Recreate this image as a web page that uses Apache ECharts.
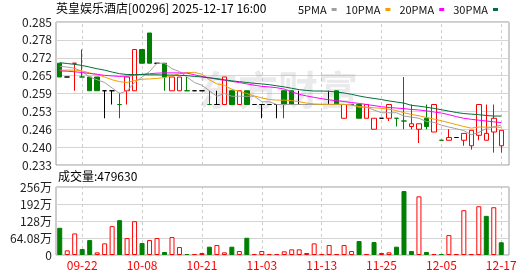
<!DOCTYPE html>
<html><head><meta charset="utf-8">
<script src="https://cdn.jsdelivr.net/npm/echarts@6/dist/echarts.min.js"></script>
<style>html,body{margin:0;padding:0;background:#fff}#c{width:530px;height:276px}</style>
</head><body><div id="c"></div>
<script>
const dates = ['09-17','09-18','09-19','09-22','09-23','09-25','09-26','09-29','09-30','10-02','10-03','10-08','10-09','10-10','10-14','10-15','10-16','10-17','10-20','10-21','10-22','10-23','10-24','10-27','10-28','10-30','10-31','11-03','11-04','11-05','11-06','11-07','11-10','11-11','11-12','11-13','11-14','11-17','11-18','11-19','11-20','11-21','11-24','11-25','11-26','11-27','11-28','12-01','12-02','12-03','12-04','12-05','12-08','12-09','12-10','12-11','12-12','12-15','12-16','12-17'];
const opens  = [0.270,0.265,0.270,0.265,0.265,0.265,0.260,0.260,0.255,0.260,0.260,0.275,0.281,0.270,0.270,0.260,0.260,0.260,0.260,0.260,0.255,0.255,0.255,0.260,0.255,0.260,0.255,0.255,0.255,0.255,0.260,0.260,0.255,0.255,0.255,0.255,0.255,0.260,0.250,0.255,0.255,0.250,0.246,0.250,0.250,0.250,0.249,0.247,0.246,0.250,0.245,0.242,0.242,0.243,0.242,0.240,0.2438,0.242,0.245,0.240];
const closes = [0.265,0.265,0.270,0.265,0.260,0.260,0.260,0.260,0.255,0.265,0.275,0.270,0.270,0.270,0.265,0.265,0.265,0.260,0.260,0.260,0.255,0.255,0.265,0.255,0.260,0.255,0.255,0.255,0.255,0.255,0.255,0.255,0.255,0.255,0.255,0.255,0.255,0.255,0.255,0.255,0.250,0.255,0.250,0.250,0.255,0.250,0.249,0.248,0.248,0.247,0.255,0.242,0.243,0.243,0.2445,0.2456,0.255,0.2445,0.250,0.2456];
const lows   = [0.265,0.265,0.260,0.265,0.260,0.260,0.250,0.255,0.250,0.255,0.260,0.270,0.270,0.270,0.260,0.260,0.260,0.260,0.260,0.260,0.255,0.255,0.255,0.255,0.255,0.255,0.255,0.250,0.255,0.250,0.250,0.255,0.255,0.255,0.255,0.255,0.255,0.255,0.250,0.255,0.250,0.250,0.246,0.250,0.249,0.247,0.246,0.246,0.241,0.246,0.245,0.242,0.242,0.243,0.240,0.2386,0.242,0.242,0.2375,0.2375];
const highs  = [0.270,0.265,0.270,0.275,0.265,0.265,0.260,0.260,0.2593,0.265,0.275,0.275,0.281,0.270,0.270,0.265,0.265,0.265,0.260,0.260,0.260,0.260,0.265,0.260,0.260,0.260,0.255,0.255,0.255,0.255,0.260,0.260,0.260,0.255,0.255,0.255,0.260,0.260,0.255,0.255,0.255,0.255,0.250,0.250,0.255,0.250,0.265,0.255,0.248,0.255,0.255,0.242,0.246,0.243,0.2445,0.2456,0.255,0.255,0.255,0.2456];
const volumes = [1026000,175000,813000,225000,563000,100000,438000,1088000,1313000,638000,1275000,450000,563000,638000,113000,675000,300000,38000,38000,75000,313000,375000,100000,313000,150000,650000,38000,150000,38000,38000,138000,213000,213000,75000,438000,38000,375000,38000,375000,150000,525000,38000,488000,75000,100000,313000,2410000,150000,2210000,113000,38000,38000,750000,38000,1688000,38000,1838000,1475000,1800000,479630];
const ma5  = [0.2689,0.2686,0.2682,0.2670,0.2650,0.2640,0.2630,0.2610,0.2590,0.2600,0.2630,0.2650,0.2670,0.2700,0.2700,0.2680,0.2670,0.2650,0.2630,0.2620,0.2600,0.2580,0.2590,0.2580,0.2580,0.2580,0.2580,0.2560,0.2560,0.2550,0.2550,0.2550,0.2550,0.2550,0.2550,0.2550,0.2550,0.2550,0.2550,0.2550,0.2540,0.2540,0.2530,0.2520,0.2520,0.2520,0.2508,0.2504,0.2500,0.2488,0.2485,0.2475,0.2468,0.2462,0.2455,0.2440,0.2448,0.2463,0.2469,0.2475];
const ma10 = [0.2675,0.2675,0.2675,0.2672,0.2665,0.2658,0.2650,0.2640,0.2633,0.2630,0.2637,0.2642,0.2643,0.2645,0.2648,0.2654,0.2662,0.2666,0.2667,0.2660,0.2640,0.2625,0.2620,0.2605,0.2598,0.2590,0.2581,0.2574,0.2568,0.2566,0.2566,0.2564,0.2560,0.2555,0.2552,0.2551,0.2551,0.2551,0.2551,0.2547,0.2543,0.2540,0.2538,0.2536,0.2533,0.2528,0.2520,0.2514,0.2509,0.2503,0.2497,0.2491,0.2484,0.2477,0.2470,0.2464,0.2468,0.2468,0.2467,0.2467];
const ma20 = [0.2672,0.2671,0.2669,0.2666,0.2663,0.2660,0.2656,0.2654,0.2652,0.2653,0.2656,0.2660,0.2662,0.2664,0.2665,0.2665,0.2665,0.2664,0.2658,0.2652,0.2647,0.2642,0.2638,0.2634,0.2630,0.2625,0.2620,0.2616,0.2614,0.2611,0.2606,0.2596,0.2587,0.2581,0.2576,0.2571,0.2567,0.2564,0.2561,0.2557,0.2554,0.2550,0.2546,0.2542,0.2539,0.2537,0.2535,0.2532,0.2530,0.2527,0.2523,0.2519,0.2513,0.2506,0.2500,0.2496,0.2493,0.2490,0.2487,0.2484];
const ma30 = [0.2702,0.2699,0.2696,0.2692,0.2686,0.2680,0.2675,0.2668,0.2662,0.2659,0.2659,0.2659,0.2658,0.2658,0.2657,0.2657,0.2656,0.2655,0.2652,0.2650,0.2647,0.2644,0.2640,0.2636,0.2633,0.2630,0.2627,0.2625,0.2622,0.2618,0.2614,0.2609,0.2604,0.2601,0.2599,0.2599,0.2598,0.2595,0.2592,0.2587,0.2581,0.2576,0.2572,0.2568,0.2563,0.2559,0.2555,0.2547,0.2544,0.2540,0.2536,0.2531,0.2526,0.2521,0.2517,0.2515,0.2513,0.2510,0.2508,0.2508];
const priceTicks = ['0.233','0.240','0.246','0.253','0.259','0.265','0.272','0.278','0.285'];
const volTicks = ['0','64.08万','128万','192万','256万'];
const labelIdx = [3,11,19,27,35,43,51,59];
const PRICE_MIN = 0.233, PRICE_MAX = 0.285, VOL_MAX = 2563200;
const title = '英皇娱乐酒店[00296] 2025-12-17 16:00';
const volTitle = '成交量:479630';
const maNames = ['5PMA','10PMA','20PMA','30PMA'];

const RED = '#ff0000', GREEN = '#008000', BLACK = '#000000';
const MA_COLORS = ['#a0a0a0','#f0a000','#ff00ff','#00703a'];
const FONT = "'Noto Sans CJK SC', sans-serif";

const candleData = dates.map((d, i) => {
  const o = opens[i], c = closes[i];
  const prev = i > 0 ? closes[i - 1] : o;
  let col;
  if (c > o) col = RED; else if (c < o) col = GREEN;
  else col = c > prev ? RED : (c < prev ? GREEN : BLACK);
  const fill = c > o ? '#ffffff' : col;
  return { value: [o, c, lows[i], highs[i]],
    itemStyle: { color: fill, color0: fill, borderColor: col, borderColor0: col, borderColorDoji: col } };
});
const volData = volumes.map((v, i) => {
  const up = i > 0 ? closes[i] >= closes[i - 1] : closes[i] >= opens[i];
  return { value: v, itemStyle: up ? { color: '#ffffff', borderColor: RED, borderWidth: 1 } : { color: GREEN, borderColor: GREEN, borderWidth: 1 } };
});

const isLabel = (idx) => labelIdx.indexOf(idx) >= 0;
const L = 56, BGW = 453, DW = 449;
const PT = 22, PH = 143, VT = 187, VH = 68;

const chart = echarts.init(document.getElementById('c'), null, { renderer: 'canvas' });
const hiddenAxis = { show: false };
const bgY = (ticks, max) => ({
  type: 'value', min: 0, max: max, interval: 1,
  axisLine: { show: false }, axisTick: { show: false },
  axisLabel: { margin: 4, fontSize: 12, color: '#222', fontFamily: FONT, formatter: (v) => ticks[v] },
  splitLine: { show: true, lineStyle: { color: '#d4d4d4', width: 1 } }
});
const catX = (grid, h, showLabel) => ({
  type: 'category', gridIndex: grid, data: dates, boundaryGap: true,
  axisLine: { show: false },
  axisTick: { show: true, inside: true, length: h, alignWithLabel: true, interval: (i) => isLabel(i),
    lineStyle: { type: [3, 3], color: '#cccccc', width: 1 } },
  axisLabel: { show: showLabel, interval: (i) => isLabel(i), color: RED, fontSize: 12, fontFamily: FONT, margin: 4 },
  splitLine: { show: false }
});

chart.setOption({
  animation: false,
  textStyle: { fontFamily: FONT },
  legend: {
    data: maNames, right: 32, top: 4, padding: 0, itemGap: 9, itemWidth: 5, itemHeight: 3,
    align: 'right', icon: 'rect', selectedMode: false,
    textStyle: { fontSize: 11, color: '#111', fontFamily: FONT }
  },
  grid: [
    { left: L, top: PT, width: BGW, height: PH, show: true, borderColor: '#9a9a9a', borderWidth: 1, backgroundColor: 'transparent' },
    { left: L, top: PT, width: DW, height: PH },
    { left: L, top: VT, width: BGW, height: VH, show: true, borderColor: '#9a9a9a', borderWidth: 1, backgroundColor: 'transparent' },
    { left: L, top: VT, width: DW, height: VH }
  ],
  xAxis: [
    Object.assign({ type: 'value', gridIndex: 0, min: 0, max: 1 }, hiddenAxis),
    catX(1, PH, false),
    Object.assign({ type: 'value', gridIndex: 2, min: 0, max: 1 }, hiddenAxis),
    catX(3, VH, true)
  ],
  yAxis: [
    Object.assign({ gridIndex: 0 }, bgY(priceTicks, priceTicks.length - 1)),
    { type: 'value', gridIndex: 1, min: PRICE_MIN, max: PRICE_MAX, show: false },
    Object.assign({ gridIndex: 2 }, bgY(volTicks, volTicks.length - 1)),
    { type: 'value', gridIndex: 3, min: 0, max: VOL_MAX, show: false }
  ],
  graphic: [
    { type: 'text', left: 56, top: 2, z: 10, style: { text: title, fontSize: 12, fill: '#000', fontFamily: FONT } },
    { type: 'text', left: 58, top: 170, z: 10, style: { text: volTitle, fontSize: 12, fill: '#000', fontFamily: FONT } },
    { type: 'text', left: 198, top: 70, z: 1, silent: true,
      style: { text: '东方财富', fontSize: 40, fontWeight: 'bold', fill: 'rgba(150,150,165,0.2)', fontFamily: FONT } }
  ],
  series: [
    { type: 'candlestick', name: 'K', xAxisIndex: 1, yAxisIndex: 1, barWidth: 5, z: 2,
      itemStyle: { borderWidth: 1 }, data: candleData },
    { type: 'line', name: maNames[0], xAxisIndex: 1, yAxisIndex: 1, data: ma5, showSymbol: false, z: 3,
      color: MA_COLORS[0], lineStyle: { width: 1, color: MA_COLORS[0] } },
    { type: 'line', name: maNames[1], xAxisIndex: 1, yAxisIndex: 1, data: ma10, showSymbol: false, z: 3,
      color: MA_COLORS[1], lineStyle: { width: 1, color: MA_COLORS[1] } },
    { type: 'line', name: maNames[2], xAxisIndex: 1, yAxisIndex: 1, data: ma20, showSymbol: false, z: 3,
      color: MA_COLORS[2], lineStyle: { width: 1, color: MA_COLORS[2] } },
    { type: 'line', name: maNames[3], xAxisIndex: 1, yAxisIndex: 1, data: ma30, showSymbol: false, z: 3,
      color: MA_COLORS[3], lineStyle: { width: 1, color: MA_COLORS[3] } },
    { type: 'bar', name: 'VOL', xAxisIndex: 3, yAxisIndex: 3, barWidth: 5, data: volData, z: 2 }
  ]
});
</script></body></html>
